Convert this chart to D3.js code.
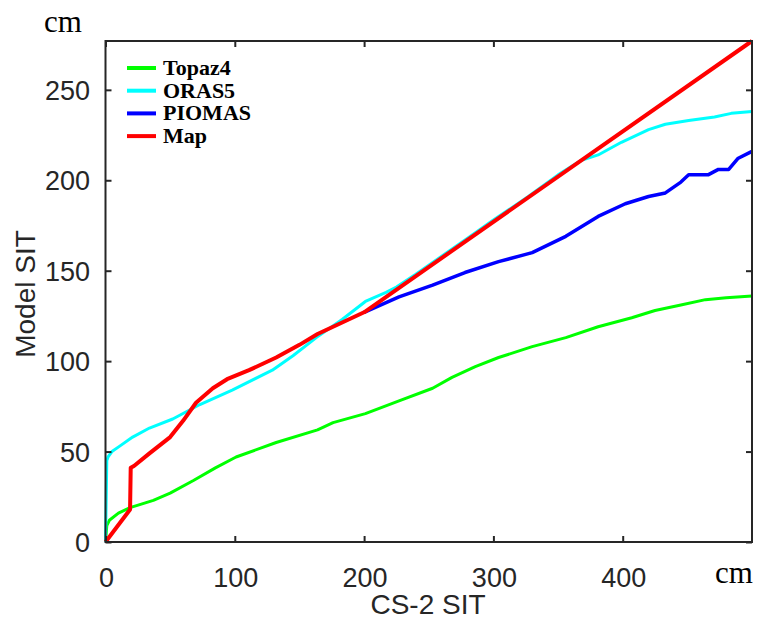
<!DOCTYPE html>
<html>
<head>
<meta charset="utf-8">
<script src="https://cdn.jsdelivr.net/npm/d3@7.9.0/dist/d3.min.js"></script>
<style>
  body { margin: 0; background: #fff; }
  svg { display: block; }
  .tick-label { font-family: "Liberation Sans", Arial, sans-serif; font-size: 27px; fill: #262626; }
  .axis-title { font-family: "Liberation Sans", Arial, sans-serif; font-size: 28px; fill: #262626; }
  .unit { font-family: "Liberation Serif", "Times New Roman", serif; font-size: 31px; fill: #000; }
  .legend-label { font-family: "Liberation Serif", "Times New Roman", serif; font-size: 22px; font-weight: bold; fill: #000; }
</style>
</head>
<body>
<svg id="chart" width="758" height="621"></svg>
<script>
// values (x = CS-2 SIT, y = model SIT, both cm)
const topaz4 = [
  [0, 0], [1, 9], [3, 12], [10, 16], [19, 19], [37, 23], [50, 27], [68, 34],
  [85, 41], [101, 47], [132, 55], [164, 62], [176, 66], [201, 71], [227, 78],
  [253, 85], [268, 91], [286, 97], [304, 102], [330, 108], [356, 113], [381, 119],
  [407, 124], [425, 128], [445, 131], [464, 134], [480, 135], [500, 136]
];
const oras5 = [
  [0, 0], [1, 45], [2, 47], [5, 50], [11, 53], [21, 58], [34, 63], [52, 68],
  [73, 76], [98, 84], [129, 95], [145, 103], [163, 113], [183, 123], [201, 133],
  [217, 138], [225, 141], [240, 148], [260, 158], [280, 168], [300, 178],
  [327, 191], [350, 203], [368, 211], [381, 214], [399, 221], [420, 228],
  [433, 231], [451, 233], [471, 235], [484, 237], [500, 238]
];
const piomas = [
  [200, 127], [227, 135.5], [253, 142], [278, 149], [304, 155], [325, 159],
  [330, 160], [356, 169], [381, 180], [402, 187], [420, 191], [433, 193],
  [445, 199], [451, 203], [466, 203], [474, 206], [482, 206], [489, 212], [500, 216]
];
const mapLine = [
  [0, 0], [19, 18], [19.5, 41], [22, 42], [34, 49], [50, 58], [60, 67], [70, 77],
  [83, 85], [94, 90], [111, 95], [132, 102], [150, 109], [164, 115], [176, 119],
  [200, 127], [500, 277]
];

const seriesNames = ['Topaz4', 'ORAS5', 'PIOMAS', 'Map'];
const seriesColors = ['#00ff00', '#00ffff', '#0000ff', '#ff0000'];
const seriesWidths = [3, 3, 3.5, 4];
const xTicks = [0, 100, 200, 300, 400];
const yTicks = [0, 50, 100, 150, 200, 250];

const margin = { top: 41, right: 6, bottom: 79, left: 105.5 };
const width = 758, height = 621;

const svg = d3.select('#chart');
const x = d3.scaleLinear().domain([0, 500]).range([margin.left, width - margin.right]);
const y = d3.scaleLinear().domain([0, 277]).range([height - margin.bottom, margin.top]);

const line = d3.line().x((d) => x(d[0])).y((d) => y(d[1]));
const allSeries = [topaz4, oras5, piomas, mapLine];

svg.append('g')
  .selectAll('path')
  .data(allSeries)
  .join('path')
  .attr('d', line)
  .attr('fill', 'none')
  .attr('stroke', (d, i) => seriesColors[i])
  .attr('stroke-width', (d, i) => seriesWidths[i])
  .attr('stroke-linejoin', 'round');

// frame with inward ticks on all four sides
const axisColor = '#262626';
const tickLen = 6;
svg.append('rect')
  .attr('x', x(0)).attr('y', y(277))
  .attr('width', x(500) - x(0)).attr('height', y(0) - y(277))
  .attr('fill', 'none').attr('stroke', axisColor).attr('stroke-width', 2);

const bottomAxis = d3.axisBottom(x).tickValues(xTicks).tickSizeInner(-tickLen).tickSizeOuter(0).tickFormat('');
const topAxis = d3.axisTop(x).tickValues(xTicks).tickSizeInner(-tickLen).tickSizeOuter(0).tickFormat('');
const leftAxis = d3.axisLeft(y).tickValues(yTicks).tickSizeInner(-tickLen).tickSizeOuter(0).tickFormat('');
const rightAxis = d3.axisRight(y).tickValues(yTicks).tickSizeInner(-tickLen).tickSizeOuter(0).tickFormat('');

[[bottomAxis, `translate(0,${y(0)})`], [topAxis, `translate(0,${y(277)})`],
 [leftAxis, `translate(${x(0)},0)`], [rightAxis, `translate(${x(500)},0)`]].forEach(([ax, t]) => {
  const g = svg.append('g').attr('transform', t).call(ax);
  g.select('.domain').remove();
  g.selectAll('line').attr('stroke', axisColor).attr('stroke-width', 2);
});

// tick labels
svg.append('g')
  .selectAll('text')
  .data(xTicks)
  .join('text')
  .attr('class', 'tick-label')
  .attr('x', (d) => x(d) + 1)
  .attr('y', 587)
  .attr('text-anchor', 'middle')
  .text((d) => d);

svg.append('g')
  .selectAll('text')
  .data(yTicks)
  .join('text')
  .attr('class', 'tick-label')
  .attr('x', 90)
  .attr('y', (d) => y(d) + 10)
  .attr('text-anchor', 'end')
  .text((d) => d);

// axis titles and units
svg.append('text').attr('class', 'axis-title')
  .attr('x', 428).attr('y', 614).attr('text-anchor', 'middle').text('CS-2 SIT');
svg.append('text').attr('class', 'axis-title')
  .attr('transform', 'translate(35,294) rotate(-90)')
  .attr('text-anchor', 'middle').text('Model SIT');
svg.append('text').attr('class', 'unit').attr('x', 44).attr('y', 32).text('cm');
svg.append('text').attr('class', 'unit').attr('x', 715).attr('y', 583).text('cm');

// legend
const legend = svg.append('g');
const legendRows = legend.selectAll('g')
  .data(seriesNames)
  .join('g')
  .attr('transform', (d, i) => `translate(127,${68 + i * 22.7})`);
legendRows.append('line')
  .attr('x1', 0).attr('x2', 29)
  .attr('stroke', (d, i) => seriesColors[i])
  .attr('stroke-width', 4);
legendRows.append('text')
  .attr('class', 'legend-label')
  .attr('x', 36).attr('y', 7)
  .text((d) => d);
</script>
</body>
</html>
